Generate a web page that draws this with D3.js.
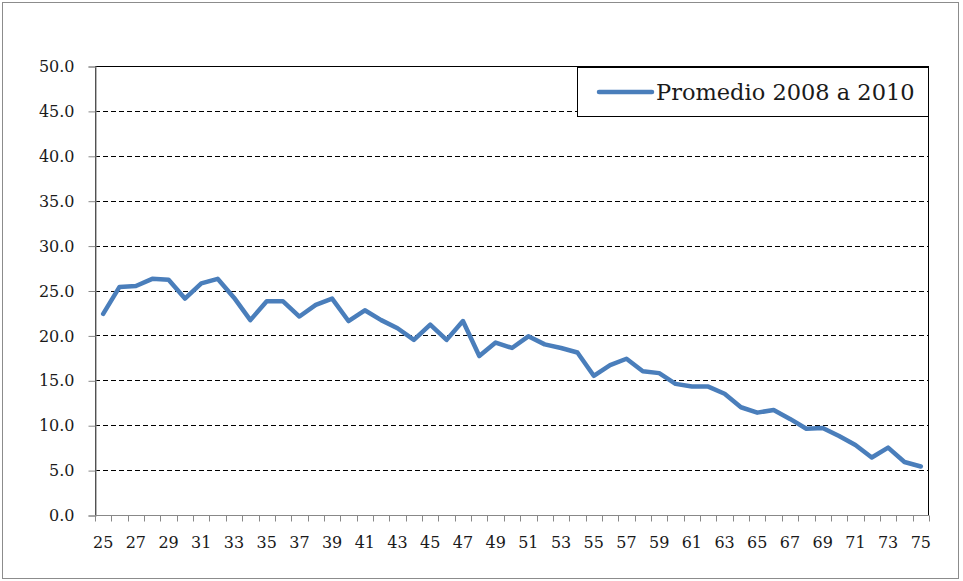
<!DOCTYPE html>
<html>
<head>
<meta charset="utf-8">
<script src="https://cdn.jsdelivr.net/npm/d3@7"></script>
<style>
  html, body { margin: 0; padding: 0; background: #fff; }
  svg { display: block; }
</style>
</head>
<body>
<svg id="chart" width="963" height="581"></svg>
<script>
const ages = d3.range(25, 76);
const values = [
  22.4, 25.4, 25.5, 26.3, 26.2, 24.1, 25.8, 26.3, 24.2, 21.7,
  23.8, 23.8, 22.1, 23.4, 24.1, 21.6, 22.8, 21.7, 20.8, 19.5,
  21.2, 19.5, 21.6, 17.7, 19.2, 18.6, 19.9, 19.0, 18.6, 18.1,
  15.5, 16.7, 17.4, 16.0, 15.8, 14.6, 14.3, 14.3, 13.5, 12.0,
  11.4, 11.7, 10.7, 9.6, 9.7, 8.8, 7.8, 6.4, 7.5, 5.9, 5.4
];
const yTicks = [0, 5, 10, 15, 20, 25, 30, 35, 40, 45, 50];
const seriesName = "Promedio 2008 a 2010";

const svg = d3.select("#chart");
const font = "'DejaVu Serif', serif";
const L = 95, R = 929, T = 66, B = 515;

// outer chart border
svg.append("rect").attr("x", 2.5).attr("y", 2.5).attr("width", 956).attr("height", 576)
  .attr("fill", "#fff").attr("stroke", "#8c8c8c").attr("stroke-width", 1);

const x = d3.scaleBand().domain(ages).range([L, R]).paddingInner(0).paddingOuter(0);
const y = d3.scaleLinear().domain([0, 50]).range([B, T]);

// gridlines
svg.append("g").selectAll("line").data(yTicks.filter(v => v > 0 && v < 50)).join("line")
  .attr("x1", L).attr("x2", R)
  .attr("y1", d => Math.round(y(d)) + 0.5).attr("y2", d => Math.round(y(d)) + 0.5)
  .attr("stroke", "#000").attr("stroke-width", 1).attr("stroke-dasharray", "5,3");

// plot area border (top/right)
svg.append("rect").attr("x", L + 0.5).attr("y", T + 0.5).attr("width", R - L - 1).attr("height", B - T)
  .attr("fill", "none").attr("stroke", "#000").attr("stroke-width", 1);

// y axis
const yAxis = d3.axisLeft(y).tickValues(yTicks).tickSize(7).tickPadding(14)
  .tickFormat(d3.format(".1f"));
const gy = svg.append("g").attr("transform", `translate(${L + 0.5},0.5)`).call(yAxis);
gy.select(".domain").attr("stroke", "#888").attr("stroke-width", 1.2);
gy.selectAll(".tick line").attr("stroke", "#888");
gy.selectAll(".tick text").attr("font-family", font).attr("font-size", 16).attr("fill", "#1a1a1a");

// x axis (ticks between categories, labels every other category)
const gx = svg.append("g").attr("transform", `translate(0,${B + 0.5})`);
gx.append("line").attr("x1", L).attr("x2", R).attr("y1", 0).attr("y2", 0)
  .attr("stroke", "#888").attr("stroke-width", 1.2);
const bounds = ages.map(a => x(a)).concat([R]);
gx.selectAll("line.tk").data(bounds).join("line").attr("class", "tk")
  .attr("x1", d => Math.round(d) + 0.5).attr("x2", d => Math.round(d) + 0.5)
  .attr("y1", 0).attr("y2", 6).attr("stroke", "#888");
gx.selectAll("text").data(ages.filter(a => (a - 25) % 2 === 0)).join("text")
  .attr("x", d => x(d) + x.bandwidth() / 2).attr("y", 32)
  .attr("text-anchor", "middle")
  .attr("font-family", font).attr("font-size", 16).attr("fill", "#1a1a1a")
  .text(d => d);

// series line
const line = d3.line()
  .x((d, i) => x(ages[i]) + x.bandwidth() / 2)
  .y(d => y(d));
svg.append("path").datum(values).attr("d", line)
  .attr("fill", "none").attr("stroke", "#4a7ebb").attr("stroke-width", 4.5)
  .attr("stroke-linejoin", "round").attr("stroke-linecap", "round");

// legend
const lg = svg.append("g");
lg.append("rect").attr("x", 577.5).attr("y", 67.5).attr("width", 351).attr("height", 49)
  .attr("fill", "#fff").attr("stroke", "#000").attr("stroke-width", 1);
lg.append("line").attr("x1", 599).attr("x2", 652).attr("y1", 92).attr("y2", 92)
  .attr("stroke", "#4a7ebb").attr("stroke-width", 4.5).attr("stroke-linecap", "round");
lg.append("text").attr("x", 656).attr("y", 92).attr("dy", "0.35em")
  .attr("font-family", font).attr("font-size", 22.5).attr("fill", "#1a1a1a")
  .text(seriesName);
</script>
</body>
</html>
